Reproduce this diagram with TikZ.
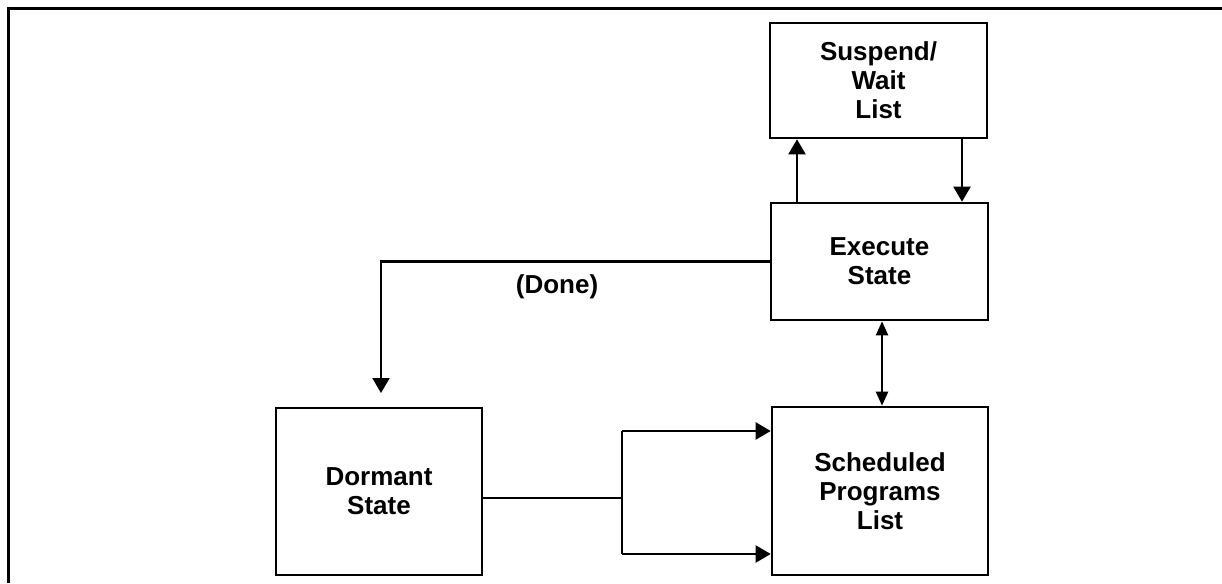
\documentclass[tikz,border=0pt]{standalone}
\usepackage{fontspec}
\setmainfont{Liberation Sans}
\usetikzlibrary{arrows.meta}
\begin{document}
\begin{tikzpicture}[x=1pt,y=-1pt,
  box/.style={draw, line width=2.6pt, font=\fontsize{26}{29}\selectfont\bfseries,
    align=center, inner sep=0pt},
  conn/.style={line width=2.2pt},
  tip/.style={-{Triangle[length=15pt,width=17pt]}},
  twotip/.style={{Triangle[length=14pt,width=12pt]}-{Triangle[length=14pt,width=12pt]}},
  lbl/.style={font=\fontsize{26}{29}\selectfont\bfseries, inner sep=0pt}]
\useasboundingbox (0,0) rectangle (1222,583);

% open frame: left side and top edge
\coordinate (frameBL) at (8,583);
\coordinate (frameTR) at (1222,9);
\draw[line width=3pt] (frameBL) |- (frameTR);

% state boxes
\node[box, minimum width=217pt, minimum height=115pt] (susp) at (878.5,80.5)
  {Suspend/\\Wait\\List};
\node[box, minimum width=217pt, minimum height=117pt] (exec) at (879.5,261.5)
  {Execute\\State};
\node[box, minimum width=216pt, minimum height=168pt] (sched) at (880,491)
  {Scheduled\\Programs\\List};
\node[box, minimum width=206pt, minimum height=167pt] (dorm) at (379,491.5)
  {Dormant\\State};

% helper coordinates for connector routes
\coordinate (upx) at (797,0);
\coordinate (downx) at (962,0);
\coordinate (bothx) at (882,0);
\coordinate (doneend) at (381,393);
\coordinate (fork) at (622,498);
\coordinate (forkT) at (622,431);
\coordinate (forkB) at (622,554);

% execute <-> suspend/wait
\draw[conn,tip] (exec.north -| upx) -- (susp.south -| upx);
\draw[conn,tip] (susp.south -| downx) -- (exec.north -| downx);

% execute <-> scheduled
\draw[conn,twotip] (exec.south -| bothx) -- (sched.north -| bothx);

% done: execute -> dormant
\draw[conn,tip] (exec.west) -| (doneend);
\node[lbl] (done) at (557,287) {(Done)};

% dormant -> scheduled (fork)
\draw[conn] (dorm.east |- fork) -- (fork);
\draw[conn] (forkT) -- (forkB);
\draw[conn,tip] (forkT) -- (sched.west |- forkT);
\draw[conn,tip] (forkB) -- (sched.west |- forkB);
\end{tikzpicture}
\end{document}
